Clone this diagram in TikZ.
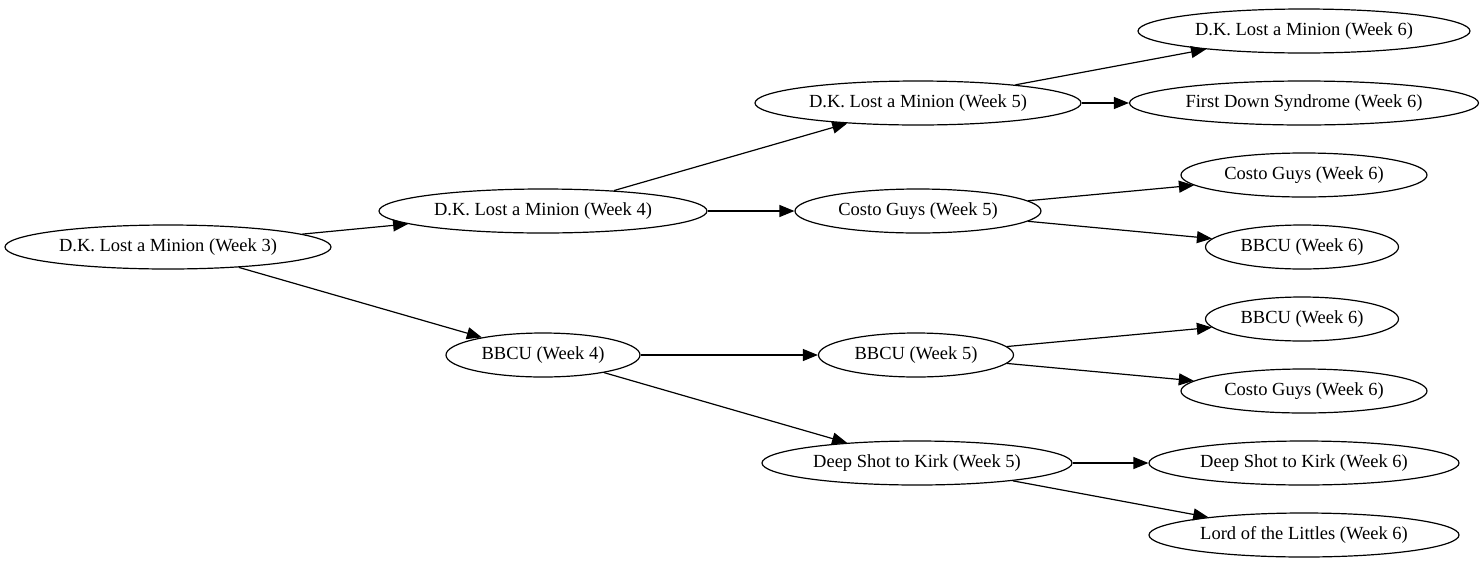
\documentclass[tikz,border=0pt]{standalone}
\usepackage{fontspec}
\setmainfont{Liberation Serif}
\usetikzlibrary{shapes.geometric,arrows.meta}
\begin{document}
\begin{tikzpicture}[x=1pt,y=-1pt,
  team/.style={draw,ellipse,line width=1.2pt,inner sep=0pt,minimum height=44pt,font=\fontsize{18.5}{22}\selectfont},
  edge/.style={line width=1.2pt,-{Triangle[length=15pt,width=12pt]}}]
\useasboundingbox (0,-2) rectangle (1484,561);
\node[team,minimum width=326pt] (w3) at (168,245) {D.K. Lost a Minion (Week 3)};
\node[team,minimum width=328pt] (dk4) at (543,209) {D.K. Lost a Minion (Week 4)};
\node[team,minimum width=194pt] (bb4) at (543,353) {BBCU (Week 4)};
\node[team,minimum width=326pt] (dk5) at (918,101) {D.K. Lost a Minion (Week 5)};
\node[team,minimum width=246pt] (cg5) at (918,209) {Costo Guys (Week 5)};
\node[team,minimum width=195pt] (bb5) at (916,353) {BBCU (Week 5)};
\node[team,minimum width=310pt] (ds5) at (917,461) {Deep Shot to Kirk (Week 5)};
\node[team,minimum width=332pt] (dk6) at (1304,29) {D.K. Lost a Minion (Week 6)};
\node[team,minimum width=349pt] (fd6) at (1304,101) {First Down Syndrome (Week 6)};
\node[team,minimum width=246pt] (cg6a) at (1304,173) {Costo Guys (Week 6)};
\node[team,minimum width=193pt] (bb6a) at (1302,245) {BBCU (Week 6)};
\node[team,minimum width=193pt] (bb6b) at (1302,317) {BBCU (Week 6)};
\node[team,minimum width=246pt] (cg6b) at (1304,389) {Costo Guys (Week 6)};
\node[team,minimum width=310pt] (ds6) at (1304,461) {Deep Shot to Kirk (Week 6)};
\node[team,minimum width=310pt] (lo6) at (1304,533) {Lord of the Littles (Week 6)};
\draw[edge] (w3) -- (dk4);
\draw[edge] (w3) -- (bb4);
\draw[edge] (dk4) -- (dk5);
\draw[edge] (dk4) -- (cg5);
\draw[edge] (bb4) -- (bb5);
\draw[edge] (bb4) -- (ds5);
\draw[edge] (dk5) -- (dk6);
\draw[edge] (dk5) -- (fd6);
\draw[edge] (cg5) -- (cg6a);
\draw[edge] (cg5) -- (bb6a);
\draw[edge] (bb5) -- (bb6b);
\draw[edge] (bb5) -- (cg6b);
\draw[edge] (ds5) -- (ds6);
\draw[edge] (ds5) -- (lo6);
\end{tikzpicture}
\end{document}
